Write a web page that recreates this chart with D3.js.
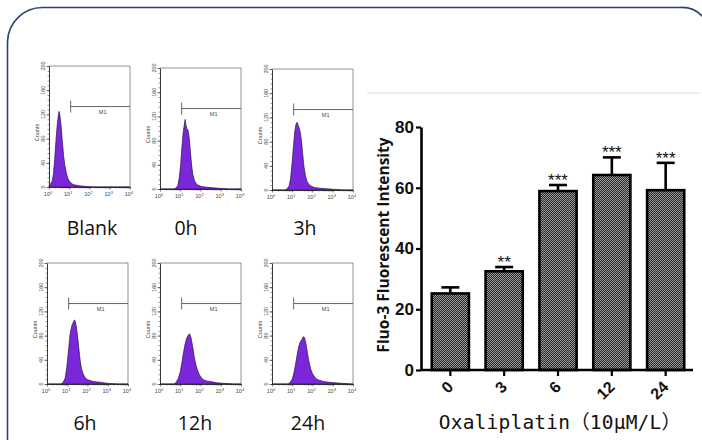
<!DOCTYPE html>
<html lang="en">
<head>
<meta charset="utf-8">
<title>Fluo-3 flow cytometry</title>
<script src="https://cdn.jsdelivr.net/npm/d3@7"></script>
<style>
  body { margin: 0; background: #fff; }
  svg { display: block; }
</style>
</head>
<body>
<script>
// ---- data ----
var panelNames = ["Blank", "0h", "3h", "6h", "12h", "24h"];

// histograms: [log10 intensity, counts]
var histBlank = [[0,3],[0.08,5],[0.16,10],[0.22,22],[0.28,45],[0.34,75],[0.4,100],[0.46,118],[0.5,125],[0.54,118],[0.6,100],[0.66,75],[0.72,52],[0.78,36],[0.85,24],[0.92,15],[1.0,10],[1.1,6],[1.2,4],[1.35,3],[1.5,2],[1.8,1],[2.2,0],[4,0]];
var hist0h = [[0,0],[0.7,0],[0.8,2],[0.88,6],[0.95,18],[1.02,40],[1.08,68],[1.14,92],[1.2,106],[1.24,115],[1.27,108],[1.32,100],[1.38,98],[1.44,85],[1.5,62],[1.56,40],[1.62,24],[1.7,14],[1.8,8],[1.9,6],[2.05,4],[2.3,3],[2.6,2],[3.0,1],[3.4,0],[4,0]];
var hist3h = [[0,0],[0.65,0],[0.75,2],[0.85,7],[0.92,20],[0.99,44],[1.06,72],[1.12,96],[1.18,108],[1.24,112],[1.28,108],[1.33,104],[1.4,95],[1.46,80],[1.52,58],[1.58,38],[1.65,24],[1.72,15],[1.82,9],[1.95,6],[2.1,4],[2.35,3],[2.7,2],[3.1,1],[3.5,0],[4,0]];
var hist6h = [[0,0],[0.7,0],[0.8,3],[0.9,10],[0.98,28],[1.06,55],[1.14,82],[1.22,96],[1.3,102],[1.36,106],[1.4,103],[1.46,92],[1.52,76],[1.58,56],[1.64,38],[1.7,26],[1.78,17],[1.86,12],[1.95,8],[2.1,6],[2.3,4],[2.6,3],[3.0,1],[3.5,0],[4,0]];
var hist12h = [[0,0],[0.7,0],[0.8,3],[0.9,9],[1.0,20],[1.08,35],[1.16,52],[1.24,66],[1.32,76],[1.4,81],[1.46,83],[1.52,78],[1.58,68],[1.64,56],[1.7,43],[1.78,31],[1.86,22],[1.95,15],[2.05,10],[2.15,7],[2.3,5],[2.5,4],[2.8,2],[3.2,1],[3.6,0],[4,0]];
var hist24h = [[0,0],[0.8,0],[0.9,3],[1.0,8],[1.08,18],[1.16,32],[1.24,48],[1.32,62],[1.4,70],[1.48,74],[1.54,78],[1.6,77],[1.66,70],[1.72,58],[1.78,45],[1.85,33],[1.92,24],[2.0,17],[2.1,12],[2.2,8],[2.35,6],[2.55,4],[2.8,3],[3.1,2],[3.5,1],[3.9,0],[4,0]];
var markerM1 = [1.07, 133]; // gate start (log10), gate height (counts)

var countTicks = [0, 40, 80, 120, 160, 200];
var decadeTicks = [0, 1, 2, 3, 4];

var hours = ["0", "3", "6", "12", "24"];
var meanIntensity = [25.2, 32.5, 58.9, 64.2, 59.2];
var semIntensity = [2.0, 1.4, 2.0, 5.8, 9.0];
var stars = ["", "**", "***", "***", "***"];
var intensityTicks = [0, 20, 40, 60, 80];

var hists = [histBlank, hist0h, hist3h, hist6h, hist12h, hist24h];

var svg = d3.select("body").append("svg")
    .attr("width", 702)
    .attr("height", 440);

// pattern for bars
var pat = svg.append("defs").append("pattern")
    .attr("id", "checker")
    .attr("patternUnits", "userSpaceOnUse")
    .attr("width", 2).attr("height", 2);
pat.append("rect").attr("width", 2).attr("height", 2).attr("fill", "#2a2a2a");
pat.append("rect").attr("width", 1).attr("height", 1).attr("fill", "#989898");
pat.append("rect").attr("x", 1).attr("y", 1).attr("width", 1).attr("height", 1).attr("fill", "#989898");

// frame
svg.append("path")
    .attr("d", "M7.5,445 V42 A35,35 0 0 1 42.5,7.5 H680 A28,28 0 0 1 703,17")
    .attr("fill", "none")
    .attr("stroke", "#2f4466")
    .attr("stroke-width", 1.6);

// ---- small histograms ----
var panelLeft = [49, 160, 272, 47, 160, 272];
var panelTop = [66, 68, 69, 263, 263, 263];
var pw = 81, ph = 121;
var labelX = [92, 186, 305, 85, 195, 308];
var labelY = [235, 235, 235, 430, 430, 430];

panelNames.forEach(function (name, i) {
    var g = svg.append("g")
        .attr("transform", "translate(" + panelLeft[i] + "," + panelTop[i] + ")");

    var x = d3.scaleLinear().domain([0, 4]).range([0, pw]);
    var y = d3.scaleLinear().domain([0, 200]).range([ph, 0]);

    // box (top/right gray)
    g.append("path")
        .attr("d", "M0,0 H" + pw + " V" + ph)
        .attr("fill", "none")
        .attr("stroke", "#777")
        .attr("stroke-width", 0.8);

    var area = d3.area()
        .x(function (d) { return x(d[0]); })
        .y0(y(0))
        .y1(function (d) { return y(d[1]); });

    g.append("path")
        .datum(hists[i])
        .attr("d", area)
        .attr("fill", "#7a27da")
        .attr("stroke", "#2b1145")
        .attr("stroke-width", 0.7);

    // y axis
    var minorY = d3.range(0, 201, 8);
    g.append("g")
        .call(d3.axisLeft(y).tickValues(minorY).tickSize(1.5).tickFormat(""))
        .call(function (a) { a.select(".domain").remove(); })
        .selectAll("line").attr("stroke", "#333").attr("stroke-width", 0.5);
    var ya = g.append("g")
        .call(d3.axisLeft(y).tickValues(countTicks).tickSize(2.5).tickSizeOuter(0).tickFormat(""));
    ya.select(".domain").attr("stroke", "#222").attr("stroke-width", 0.9);
    ya.selectAll("line").attr("stroke", "#222").attr("stroke-width", 0.6);
    g.selectAll(".ylab").data(countTicks).enter().append("text")
        .attr("class", "ylab")
        .attr("transform", function (d) { return "translate(-4," + y(d) + ") rotate(-90)"; })
        .attr("text-anchor", "middle")
        .attr("font-family", "Liberation Sans, Arial, sans-serif")
        .attr("font-size", 5.5)
        .attr("fill", "#444")
        .text(function (d) { return d; });
    g.append("text")
        .attr("transform", "translate(-10," + (ph / 2 + 6) + ") rotate(-90)")
        .attr("text-anchor", "middle")
        .attr("font-family", "Liberation Sans, Arial, sans-serif")
        .attr("font-size", 5.5)
        .attr("fill", "#444")
        .text("Counts");

    // x axis (log decades)
    var minorX = [];
    decadeTicks.slice(0, 4).forEach(function (dd) {
        for (var k = 2; k < 10; k++) minorX.push(dd + Math.log10(k));
    });
    g.append("g")
        .attr("transform", "translate(0," + ph + ")")
        .call(d3.axisBottom(x).tickValues(minorX).tickSize(1.5).tickFormat(""))
        .call(function (a) { a.select(".domain").remove(); })
        .selectAll("line").attr("stroke", "#333").attr("stroke-width", 0.5);
    var xa = g.append("g")
        .attr("transform", "translate(0," + ph + ")")
        .call(d3.axisBottom(x).tickValues(decadeTicks).tickSize(2.5).tickSizeOuter(0).tickFormat(""));
    xa.select(".domain").attr("stroke", "#222").attr("stroke-width", 0.9);
    xa.selectAll("line").attr("stroke", "#222").attr("stroke-width", 0.6);
    var xl = g.selectAll(".xlab").data(decadeTicks).enter().append("text")
        .attr("class", "xlab")
        .attr("x", function (d) { return x(d) - 1; })
        .attr("y", ph + 9)
        .attr("text-anchor", "middle")
        .attr("font-family", "Liberation Sans, Arial, sans-serif")
        .attr("font-size", 5.5)
        .attr("fill", "#444");
    xl.append("tspan").text("10");
    xl.append("tspan").attr("dy", -2.5).attr("font-size", 4).text(function (d) { return d; });

    // M1 gate marker
    var mx = x(markerM1[0]), my = y(markerM1[1]);
    g.append("line").attr("x1", mx).attr("x2", pw).attr("y1", my).attr("y2", my)
        .attr("stroke", "#555").attr("stroke-width", 0.9);
    g.append("line").attr("x1", mx).attr("x2", mx).attr("y1", my - 6).attr("y2", my + 6)
        .attr("stroke", "#555").attr("stroke-width", 0.9);
    g.append("text")
        .attr("x", x(2.65)).attr("y", my + 7.5)
        .attr("text-anchor", "middle")
        .attr("font-family", "Liberation Sans, Arial, sans-serif")
        .attr("font-size", 5.5)
        .attr("fill", "#444")
        .text("M1");

    svg.append("text")
        .attr("x", labelX[i]).attr("y", labelY[i])
        .attr("text-anchor", "middle")
        .attr("font-family", "Open Sans, sans-serif")
        .attr("font-size", 19.5)
        .attr("fill", "#111")
        .text(name);
});

// ---- bar chart ----
svg.append("line")
    .attr("x1", 367).attr("x2", 700).attr("y1", 93).attr("y2", 93)
    .attr("stroke", "#eeeeee").attr("stroke-width", 2);

var xb = d3.scaleBand().domain(hours).range([421, 695]).paddingInner(0.31).paddingOuter(0.2);
var yb = d3.scaleLinear().domain([0, 80]).range([370, 127]);

var bars = svg.append("g");
bars.selectAll("rect").data(meanIntensity).enter().append("rect")
    .attr("x", function (d, i) { return xb(hours[i]); })
    .attr("y", function (d) { return yb(d); })
    .attr("width", xb.bandwidth())
    .attr("height", function (d) { return yb(0) - yb(d); })
    .attr("fill", "url(#checker)")
    .attr("stroke", "#000")
    .attr("stroke-width", 2.6);

// error bars (upper only)
var err = svg.append("g").attr("stroke", "#000").attr("stroke-width", 2.6);
meanIntensity.forEach(function (m, i) {
    var cx = xb(hours[i]) + xb.bandwidth() / 2;
    var top = yb(m + semIntensity[i]);
    err.append("line").attr("x1", cx).attr("x2", cx).attr("y1", yb(m)).attr("y2", top);
    err.append("line").attr("x1", cx - 9).attr("x2", cx + 9).attr("y1", top).attr("y2", top);
    svg.append("text")
        .attr("x", cx).attr("y", top + 1)
        .attr("text-anchor", "middle")
        .attr("font-family", "Liberation Sans, Arial, sans-serif")
        .attr("font-size", 17)
        .attr("fill", "#111")
        .text(stars[i]);
});

// axes
var yAxis = svg.append("g")
    .attr("transform", "translate(421,0)")
    .call(d3.axisLeft(yb).tickValues(intensityTicks).tickSize(5).tickSizeOuter(0).tickPadding(2));
yAxis.select(".domain").attr("stroke", "#000").attr("stroke-width", 2.6);
yAxis.selectAll("line").attr("stroke", "#000").attr("stroke-width", 2.2);
yAxis.selectAll("text")
    .attr("font-family", "Liberation Sans Narrow, Arial Narrow, sans-serif")
    .attr("font-weight", "bold")
    .attr("font-size", 17)
    .attr("fill", "#111");

var xAxis = svg.append("g")
    .attr("transform", "translate(0,370)")
    .call(d3.axisBottom(xb).tickSize(6).tickSizeOuter(0));
xAxis.select(".domain").attr("d", "M421,0H693").attr("stroke", "#000").attr("stroke-width", 2.6);
xAxis.selectAll("line").attr("stroke", "#000").attr("stroke-width", 2.2);
xAxis.selectAll("text")
    .attr("font-family", "Liberation Sans, Arial, sans-serif")
    .attr("font-weight", "bold")
    .attr("font-size", 16)
    .attr("fill", "#111")
    .attr("text-anchor", "end")
    .attr("y", 0)
    .attr("dy", 0)
    .attr("transform", "translate(4,18) rotate(-45)");

svg.append("text")
    .attr("transform", "translate(389,245) rotate(-90)")
    .attr("text-anchor", "middle")
    .attr("font-family", "Open Sans, sans-serif")
    .attr("font-weight", "bold")
    .attr("font-size", 15.5)
    .attr("fill", "#111")
    .text("Fluo-3 Fluorescent Intensity");

svg.append("text")
    .attr("x", 560).attr("y", 429)
    .attr("text-anchor", "middle")
    .attr("font-family", "DejaVu Sans Mono, Noto Sans CJK SC, monospace")
    .attr("font-size", 19.5)
    .attr("letter-spacing", 0.2)
    .attr("fill", "#111")
    .text("Oxaliplatin（10μM/L）");
</script>
</body>
</html>
